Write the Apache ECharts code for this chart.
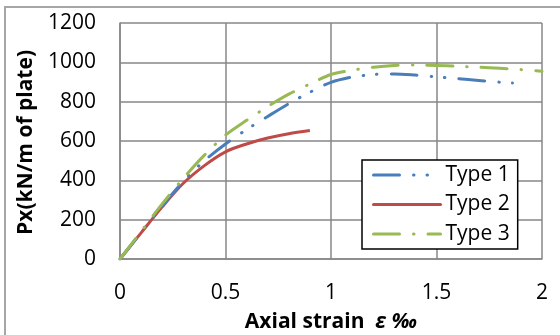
<!DOCTYPE html>
<html>
<head>
<meta charset="utf-8">
<title>Px vs axial strain</title>
<script src="https://cdn.jsdelivr.net/npm/echarts@6/dist/echarts.min.js"></script>
<style>
  body { margin: 0; background: #fff; }
  #wrap { position: relative; width: 560px; height: 335px; overflow: hidden; }
  #frame { position: absolute; left: 4px; top: 6px; width: 600px; height: 400px; border: 2px solid #a6a6a6; box-sizing: border-box; }
  #chart { position: absolute; left: 0; top: 0; width: 560px; height: 335px; }
</style>
</head>
<body>
<div id="wrap">
  <div id="frame"></div>
  <div id="chart"></div>
</div>
<script type="text/javascript">

// strain (‰) and Px (kN/m of plate)
var type1Strain = [0, 0.1, 0.2, 0.3, 0.4, 0.5, 0.6, 0.7, 0.8, 0.9, 1.0, 1.1, 1.2, 1.3, 1.4, 1.5, 1.6, 1.7, 1.8, 1.86];
var type1Px     = [0, 135, 270, 395, 500, 585, 658, 725, 790, 848, 898, 925, 938, 941, 935, 926, 917, 908, 899, 895];

var type2Strain = [0, 0.1, 0.2, 0.3, 0.4, 0.5, 0.6, 0.7, 0.8, 0.9];
var type2Px     = [0, 133, 265, 385, 475, 545, 585, 615, 637, 653];

var type3Strain = [0, 0.1, 0.2, 0.3, 0.4, 0.5, 0.6, 0.7, 0.8, 0.9, 1.0, 1.1, 1.2, 1.3, 1.4, 1.5, 1.6, 1.7, 1.8, 1.9, 2.0];
var type3Px     = [0, 140, 280, 410, 528, 630, 705, 775, 838, 890, 938, 960, 975, 984, 986, 984, 980, 975, 970, 963, 955];

var seriesNames = ['Type 1', 'Type 2', 'Type 3'];
var xTicks = { min: 0, max: 2, interval: 0.5 };
var yTicks = { min: 0, max: 1200, interval: 200 };

function pairs(xs, ys) {
    var out = [];
    for (var i = 0; i < xs.length; i++) {
        out.push([xs[i], ys[i]]);
    }
    return out;
}

var FONT = '"Open Sans", "Noto Sans", sans-serif';
var GRID_COLOR = '#878787';

var chart = echarts.init(document.getElementById('chart'));

var option = {
    animation: false,
    textStyle: { fontFamily: FONT, color: '#000' },
    grid: { left: 120, top: 23, right: 18, bottom: 76, outerBoundsMode: 'none', containLabel: false },
    legend: {
        orient: 'vertical',
        left: 362,
        top: 160,
        width: 160,
        backgroundColor: '#fff',
        borderColor: '#000',
        borderWidth: 1.5,
        borderRadius: 0,
        padding: [4, 8, 4, 10],
        itemWidth: 67,
        itemHeight: 14,
        itemGap: 7.5,
        itemStyle: { opacity: 0 },
        lineStyle: { width: 3, cap: 'round' },
        textStyle: { fontFamily: FONT, fontSize: 21, color: '#000', lineHeight: 22 },
        data: seriesNames
    },
    xAxis: {
        type: 'value',
        min: xTicks.min,
        max: xTicks.max,
        interval: xTicks.interval,
        name: 'Axial strain  {e|ε ‰}',
        nameLocation: 'middle',
        nameGap: 53,
        nameTextStyle: {
            fontFamily: FONT, fontSize: 21, fontWeight: 'bold', color: '#000',
            rich: { e: { fontFamily: FONT, fontSize: 21, fontWeight: 'bold', fontStyle: 'italic', color: '#000' } }
        },
        axisLine: { show: true, lineStyle: { color: GRID_COLOR, width: 1.5 } },
        axisTick: { show: false },
        axisLabel: { margin: 24, fontSize: 21, color: '#000', fontFamily: FONT },
        splitLine: { show: true, lineStyle: { color: GRID_COLOR, width: 1.5 } }
    },
    yAxis: {
        type: 'value',
        min: yTicks.min,
        max: yTicks.max,
        interval: yTicks.interval,
        axisLine: { show: true, lineStyle: { color: GRID_COLOR, width: 1.5 } },
        axisTick: { show: false },
        axisLabel: {
            margin: 24, fontSize: 21, color: '#000', fontFamily: FONT,
            formatter: function (v) { return String(v); }
        },
        splitLine: { show: true, lineStyle: { color: GRID_COLOR, width: 1.5 } }
    },
    graphic: [
        {
            // y axis title, reads bottom to top
            type: 'text',
            left: 16,
            top: 50,
            rotation: Math.PI / 2,
            style: {
                text: 'Px(kN/m of plate)',
                fontFamily: FONT,
                fontSize: 21,
                fontWeight: 'bold',
                fill: '#000'
            }
        }
    ],
    series: [
        {
            name: seriesNames[0],
            type: 'line',
            smooth: 0.3,
            symbol: 'none',
            data: pairs(type1Strain, type1Px),
            lineStyle: { color: '#4a7ebb', width: 3, cap: 'round', type: [26, 14, 0.5, 13, 0.5, 14] },
            itemStyle: { color: '#4a7ebb' },
            z: 3
        },
        {
            name: seriesNames[1],
            type: 'line',
            smooth: 0.3,
            symbol: 'none',
            data: pairs(type2Strain, type2Px),
            lineStyle: { color: '#be4b48', width: 3, type: 'solid' },
            itemStyle: { color: '#be4b48' },
            z: 2
        },
        {
            name: seriesNames[2],
            type: 'line',
            smooth: 0.3,
            symbol: 'none',
            data: pairs(type3Strain, type3Px),
            lineStyle: { color: '#98b954', width: 3, cap: 'round', type: [26, 14, 0.5, 14] },
            itemStyle: { color: '#98b954' },
            z: 4
        }
    ]
};

chart.setOption(option);

</script>
</body>
</html>
